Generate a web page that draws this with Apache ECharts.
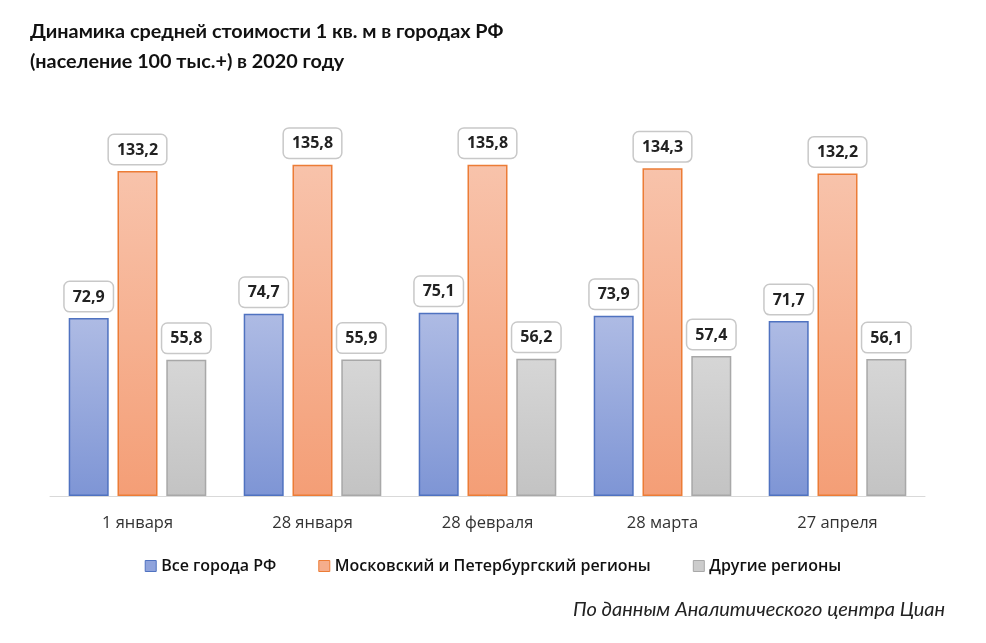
<!DOCTYPE html>
<html><head><meta charset="utf-8">
<script src="https://cdn.jsdelivr.net/npm/echarts@6/dist/echarts.min.js"></script>
<style>html,body{margin:0;padding:0;background:#fff}#c{width:986px;height:643px}</style>
</head><body><div id="c"></div>
<script>
const categories = ['1 января','28 января','28 февраля','28 марта','27 апреля'];
const seriesNames = ['Все города РФ','Московский и Петербургский регионы','Другие регионы'];
const allCities = [72.9, 74.7, 75.1, 73.9, 71.7];
const mskSpb = [133.2, 135.8, 135.8, 134.3, 132.2];
const otherRegions = [55.8, 55.9, 56.2, 57.4, 56.1];

const chart = echarts.init(document.getElementById('c'));
function grad(a,b){return new echarts.graphic.LinearGradient(0,0,0,1,[{offset:0,color:a},{offset:1,color:b}]);}
const styles = [
  {fill: grad('#aebbe4','#7e95d5'), border:'#4f72c0', icon:'#8fa3dc'},
  {fill: grad('#f8c3ab','#f49e76'), border:'#ec7c36', icon:'#f5ad8c'},
  {fill: grad('#d6d6d6','#c3c3c3'), border:'#a8a8a8', icon:'#cccccc'}
];
const datas = [allCities, mskSpb, otherRegions];
const fmt = p => String(p.value.toFixed(1)).replace('.', ',');
chart.setOption({
  animation:false,
  title:[{
    text:'Динамика средней стоимости 1 кв. м в городах РФ\n(население 100 тыс.+) в 2020 году',
    left:30, top:17, padding:0,
    textStyle:{fontFamily:'Lato', fontWeight:'bold', fontSize:19.8, color:'#111', lineHeight:30}
  },{
    text:'По данным Аналитического центра Циан',
    right:41, top:600, padding:0,
    textStyle:{fontFamily:'Lato', fontStyle:'italic', fontWeight:'normal', fontSize:20, color:'#222'}
  }],
  legend:{
    top:553, left:'center', itemGap:42, itemWidth:11, itemHeight:11,
    textStyle:{fontFamily:'Open Sans', fontWeight:600, fontSize:16, color:'#111'},
    data: seriesNames.map((n,i)=>({name:n, icon:'rect', itemStyle:{color:styles[i].icon, borderColor:styles[i].border, borderWidth:1}}))
  },
  grid:{left:50, right:61, top:130, bottom:147},
  xAxis:{type:'category', data:categories,
    axisLine:{lineStyle:{color:'#d9d9d9', width:1}}, axisTick:{show:false},
    axisLabel:{fontFamily:'Open Sans', fontSize:16.5, color:'#333', margin:19}},
  yAxis:{type:'value', min:0, max:150, show:false, splitLine:{show:false}},
  series: datas.map((d,i)=>({
    name:seriesNames[i], type:'bar', data:d, barWidth:40, barGap:'22%',
    itemStyle:{color:styles[i].fill, borderColor:styles[i].border, borderWidth:1.5},
    label:{show:true, position:'top', distance:7, formatter:fmt,
      fontFamily:'Open Sans', fontWeight:'bold', fontSize:16, color:'#222',
      backgroundColor:'#fff', borderColor:'#c8c8c8', borderWidth:1.5, borderRadius:5,
      padding:[7,8,6,8]}
  }))
});
</script></body></html>
